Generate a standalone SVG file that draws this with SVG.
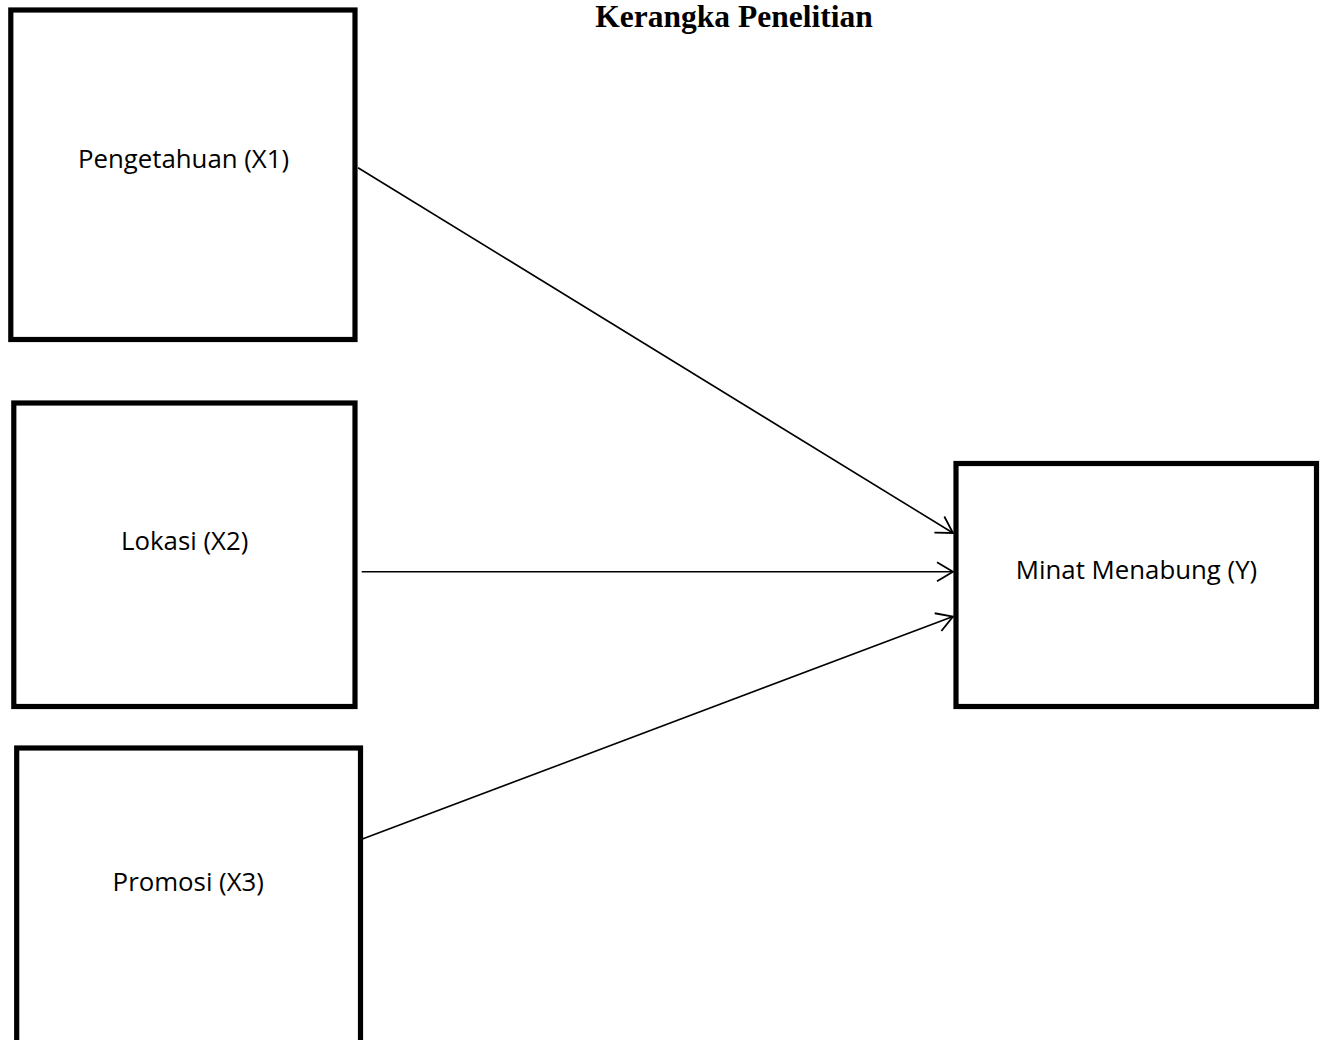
<svg xmlns="http://www.w3.org/2000/svg" width="1322" height="1040" viewBox="0 0 1322 1040">
<style>
.box{fill:#fff;stroke:#000;stroke-width:5.2}
.lbl{font-family:"Open Sans","Noto Sans",sans-serif;font-size:25.8px;fill:#000;text-anchor:middle}
.title{font-family:"Liberation Serif","Times New Roman",serif;font-weight:bold;font-size:31.5px;fill:#000;text-anchor:middle}
.edge{fill:none;stroke:#000;stroke-width:1.6}
</style>
<defs>
<marker id="arr" markerUnits="userSpaceOnUse" markerWidth="24" markerHeight="24" viewBox="-20 -12 24 24" refX="0" refY="0" orient="auto" overflow="visible">
<path d="M-16,-9.5 L0,0 L-16,9.5" fill="none" stroke="#000" stroke-width="1.8"/>
</marker>
</defs>
<rect width="1322" height="1040" fill="#fff"/>
<text class="title" x="734" y="27">Kerangka Penelitian</text>
<g id="x1">
<rect class="box" x="10.8" y="10" width="344.2" height="329.5"/>
<text class="lbl" x="183.5" y="168">Pengetahuan (X1)</text>
</g>
<g id="x2">
<rect class="box" x="13.8" y="403" width="341.2" height="303.5"/>
<text class="lbl" x="184.7" y="550">Lokasi (X2)</text>
</g>
<g id="x3">
<rect class="box" x="16.7" y="748" width="343.8" height="310"/>
<text class="lbl" x="188.3" y="890.7">Promosi (X3)</text>
</g>
<g id="y">
<rect class="box" x="956" y="463.5" width="360.5" height="243"/>
<text class="lbl" x="1136.5" y="579">Minat Menabung (Y)</text>
</g>
<g id="connectors">
<line class="edge" x1="358" y1="167.7" x2="953" y2="533" marker-end="url(#arr)"/>
<line class="edge" x1="361.7" y1="571.7" x2="953" y2="571.7" marker-end="url(#arr)"/>
<line class="edge" x1="361.7" y1="839.3" x2="953" y2="616.5" marker-end="url(#arr)"/>
</g>
</svg>
